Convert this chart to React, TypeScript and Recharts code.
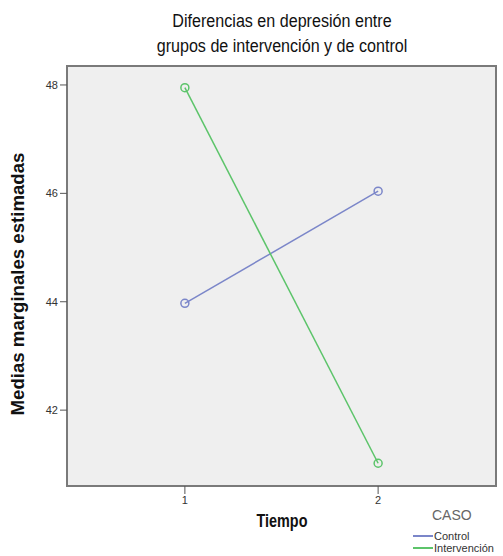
import React from 'react';
import { LineChart, Line, XAxis, YAxis, ReferenceArea } from 'recharts';

const tiempos = [1, 2];
const control = [43.97, 46.04];
const intervencion = [47.95, 41.02];
const yTicks = [42, 44, 46, 48];
const xTicks = [1, 2];

const COLORS = { control: '#7b86c9', intervencion: '#5cc46a' };
const FONT = "'Liberation Sans', Arial, sans-serif";

const data = tiempos.map((t, i) => ({ t, control: control[i], intervencion: intervencion[i] }));

const X_DOMAIN: [number, number] = [0.39, 2.61];
const Y_DOMAIN: [number, number] = [40.6, 48.35];

function HollowDot(props: any) {
  const { cx, cy, stroke } = props;
  if (cx == null || cy == null) return null;
  return <circle cx={cx} cy={cy} r={4} fill="none" stroke={stroke} strokeWidth={1.5} />;
}

function CasoLegend() {
  const items = [
    { name: 'Control', color: COLORS.control },
    { name: 'Intervención', color: COLORS.intervencion },
  ];
  return (
    <div style={{ position: 'absolute', left: 413, top: 506, width: 90, fontFamily: FONT }}>
      <div style={{ fontSize: 14, color: '#666', marginLeft: 19, lineHeight: '18px' }}>CASO</div>
      <div style={{ height: 6 }} />
      {items.map((it) => (
        <div key={it.name} style={{ display: 'flex', alignItems: 'center', height: 12 }}>
          <div style={{ width: 20, height: 1.5, background: it.color }} />
          <span style={{ fontSize: 11, color: '#333', marginLeft: 1, lineHeight: '12px' }}>{it.name}</span>
        </div>
      ))}
    </div>
  );
}

export default function App() {
  return (
    <div style={{ position: 'absolute', left: 0, top: 0, width: 503, height: 556, background: '#fff' }}>
      <LineChart
        width={503}
        height={556}
        data={data}
        margin={{ top: 66, right: 7, bottom: 40, left: 37 }}
      >
        <ReferenceArea
          x1={X_DOMAIN[0]}
          x2={X_DOMAIN[1]}
          y1={Y_DOMAIN[0]}
          y2={Y_DOMAIN[1]}
          fill="#efefef"
          fillOpacity={1}
          stroke="#7a7a7a"
          strokeWidth={2}
          ifOverflow="visible"
        />
        <XAxis
          dataKey="t"
          type="number"
          domain={X_DOMAIN}
          ticks={xTicks}
          allowDataOverflow
          axisLine={false}
          tickLine={{ stroke: '#555' }}
          tickSize={8}
          height={30}
          tick={{ fontSize: 11, fill: '#333', fontFamily: FONT }}
        />
        <YAxis
          type="number"
          domain={Y_DOMAIN}
          ticks={yTicks}
          allowDataOverflow
          axisLine={false}
          tickLine={{ stroke: '#555' }}
          tickSize={7}
          width={30}
          tick={{ fontSize: 11, fill: '#333', fontFamily: FONT }}
        />
        <Line
          type="linear"
          dataKey="control"
          name="Control"
          stroke={COLORS.control}
          strokeWidth={1.5}
          dot={<HollowDot />}
          activeDot={false}
          isAnimationActive={false}
        />
        <Line
          type="linear"
          dataKey="intervencion"
          name="Intervención"
          stroke={COLORS.intervencion}
          strokeWidth={1.5}
          dot={<HollowDot />}
          activeDot={false}
          isAnimationActive={false}
        />
      </LineChart>

      <div
        style={{
          position: 'absolute',
          left: 82,
          width: 400,
          top: 9,
          textAlign: 'center',
          fontFamily: FONT,
          fontSize: 17.5,
          lineHeight: '25px',
          color: '#111',
          transform: 'scaleX(0.92)',
        }}
      >
        Diferencias en depresión entre
        <br />
        grupos de intervención y de control
      </div>

      <div
        style={{
          position: 'absolute',
          left: 18 - 160,
          width: 320,
          top: 284 - 11,
          height: 22,
          lineHeight: '22px',
          textAlign: 'center',
          fontFamily: FONT,
          fontWeight: 'bold',
          fontSize: 19,
          color: '#111',
          transform: 'rotate(-90deg) scaleX(0.98)',
        }}
      >
        Medias marginales estimadas
      </div>

      <div
        style={{
          position: 'absolute',
          left: 282 - 60,
          width: 120,
          top: 521 - 11,
          height: 22,
          lineHeight: '22px',
          textAlign: 'center',
          fontFamily: FONT,
          fontWeight: 'bold',
          fontSize: 18,
          color: '#111',
          transform: 'scaleX(0.8)',
        }}
      >
        Tiempo
      </div>

      <CasoLegend />
    </div>
  );
}
